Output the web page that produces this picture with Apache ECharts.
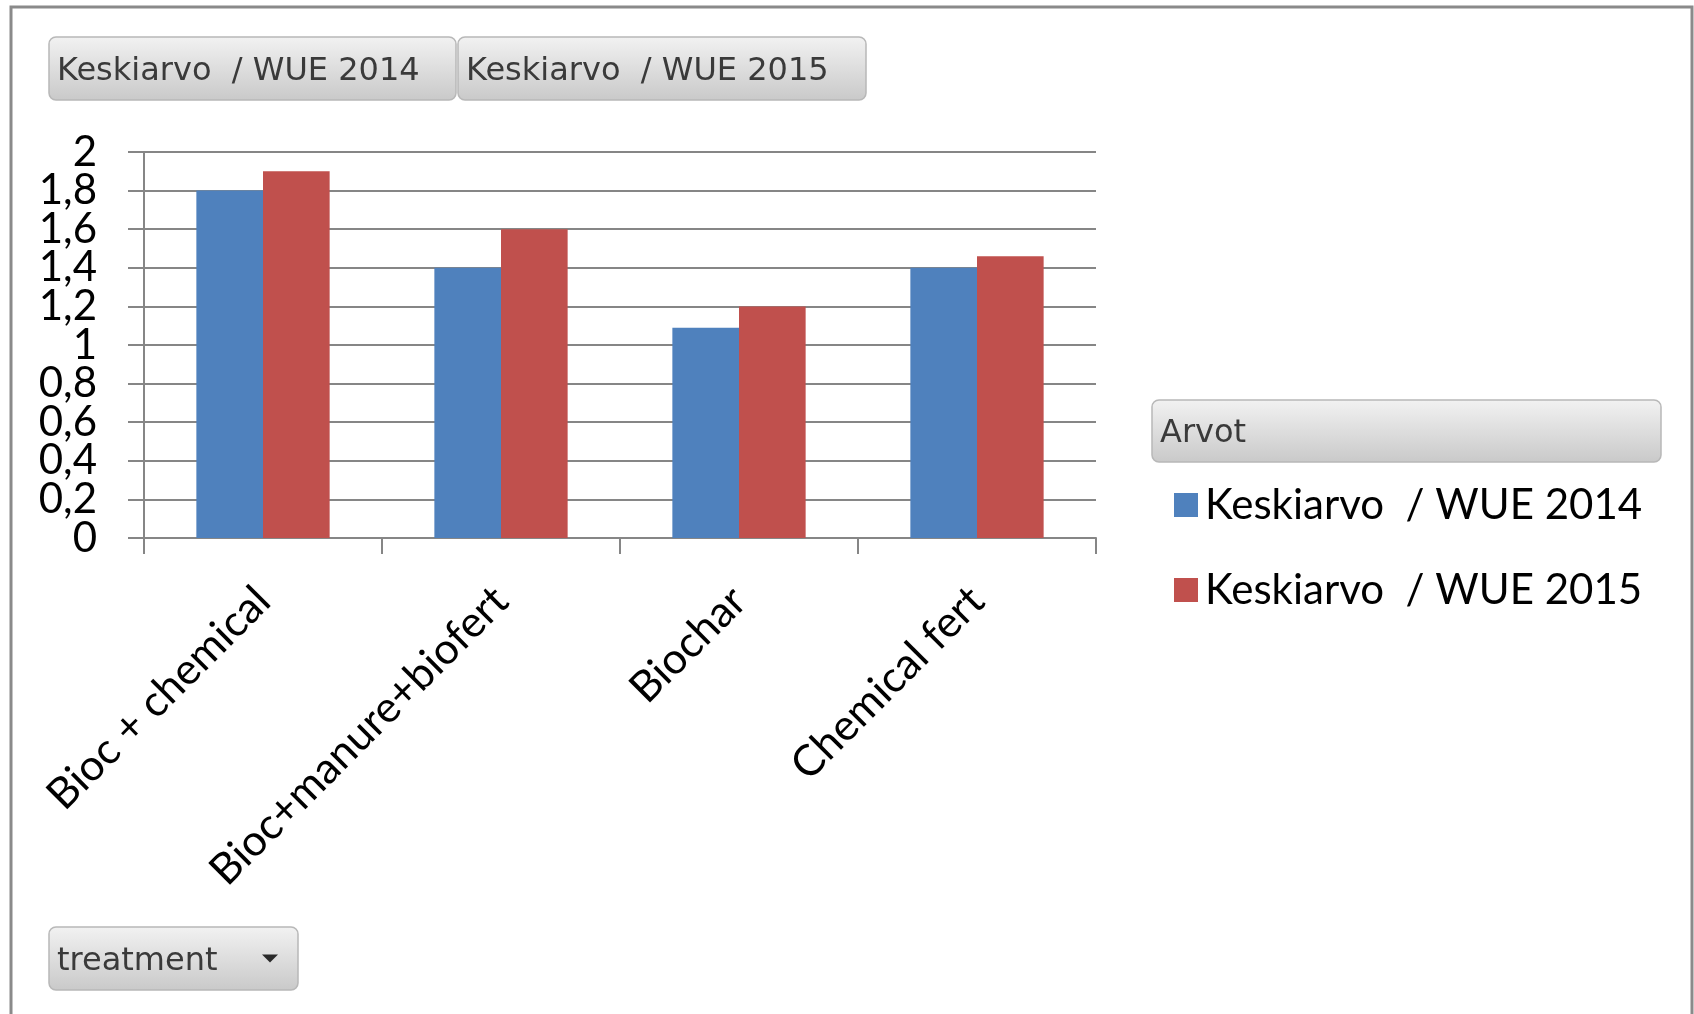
<!DOCTYPE html>
<html>
<head>
<meta charset="utf-8">
<title>WUE</title>
<script src="https://cdn.jsdelivr.net/npm/echarts@6/dist/echarts.min.js"></script>
<style>
  html, body { margin: 0; padding: 0; background: #ffffff; }
  #chart { width: 1694px; height: 1014px; }
</style>
</head>
<body>
<div id="chart"></div>
<script>
// Treatment categories on the x axis
const treatments = ['Bioc + chemical', 'Bioc+manure+biofert', 'Biochar', 'Chemical fert'];
// Mean water-use efficiency per treatment and year
const wue2014 = [1.8, 1.4, 1.09, 1.4];
const wue2015 = [1.9, 1.6, 1.2, 1.46];
// Series / field names
const name2014 = 'Keskiarvo  / WUE 2014';
const name2015 = 'Keskiarvo  / WUE 2015';
const valuesField = 'Arvot';
const rowField = 'treatment';

const labelFont = 'Lato';
const buttonFont = '"DejaVu Sans", sans-serif';

// Pivot-style field button: rounded grey gradient box with a caption
function fieldButton(x, y, w, h, caption, withArrow) {
  const children = [
    {
      type: 'rect',
      shape: { x: x, y: y, width: w, height: h, r: 7 },
      style: {
        fill: new echarts.graphic.LinearGradient(0, 0, 0, 1, [
          { offset: 0, color: '#f2f2f2' },
          { offset: 1, color: '#c9c9c9' }
        ]),
        stroke: '#b8b8b8',
        lineWidth: 1.5
      }
    },
    {
      type: 'text',
      x: x + 8,
      y: y + h / 2 + 3,
      style: {
        text: caption,
        font: '32px ' + buttonFont,
        fill: '#3a3a3a',
        textVerticalAlign: 'middle'
      }
    }
  ];
  if (withArrow) {
    children.push({
      type: 'polygon',
      shape: { points: [[x + w - 36, y + h / 2 - 4], [x + w - 20, y + h / 2 - 4], [x + w - 28, y + h / 2 + 4]] },
      style: { fill: '#2a2a2a' }
    });
  }
  return { type: 'group', children: children };
}

// Decimal-comma tick text; the two value axes share the scale and each
// prints every other tick so the tightly packed labels all stay visible.
function tickText(v) {
  return String(Math.round(v * 10) / 10).replace('.', ',');
}
function tickStep(v) {
  return Math.round(v * 5);
}

const yLabelBase = {
  margin: 47,
  showMinLabel: true,
  showMaxLabel: true,
  hideOverlap: false,
  fontFamily: labelFont,
  fontSize: 42,
  color: '#000000'
};

const chart = echarts.init(document.getElementById('chart'), null, { renderer: 'canvas' });

chart.setOption({
  animation: false,
  backgroundColor: '#ffffff',
  color: ['#4F81BD', '#C0504D'],
  grid: {
    left: 144,
    right: 598,
    top: 152,
    bottom: 476,
    containLabel: false
  },
  legend: {
    orient: 'vertical',
    left: 1169,
    top: 479,
    itemWidth: 24,
    itemHeight: 24,
    itemGap: 43,
    icon: 'rect',
    textStyle: { fontFamily: labelFont, fontSize: 42, color: '#000000', padding: [0, 0, 0, 2] },
    data: [name2014, name2015]
  },
  xAxis: {
    type: 'category',
    data: treatments,
    axisLine: { lineStyle: { color: '#868686', width: 2 } },
    axisTick: { show: true, length: 16, lineStyle: { color: '#868686', width: 2 } },
    axisLabel: {
      rotate: 45,
      interval: 0,
      margin: 56,
      fontFamily: labelFont,
      fontSize: 43,
      color: '#000000'
    }
  },
  yAxis: [
    {
      type: 'value',
      position: 'left',
      min: 0,
      max: 2,
      interval: 0.2,
      axisLine: { show: true, lineStyle: { color: '#868686', width: 2 } },
      axisTick: { show: true, length: 16, lineStyle: { color: '#868686', width: 2 } },
      splitLine: { lineStyle: { color: '#868686', width: 2 } },
      axisLabel: Object.assign({}, yLabelBase, {
        formatter: function (v) { return tickStep(v) % 2 === 0 ? tickText(v) : ''; }
      })
    },
    {
      type: 'value',
      position: 'left',
      offset: 0,
      min: 0,
      max: 2,
      interval: 0.2,
      axisLine: { show: false },
      axisTick: { show: false },
      splitLine: { show: false },
      axisLabel: Object.assign({}, yLabelBase, {
        formatter: function (v) { return tickStep(v) % 2 === 1 ? tickText(v) : ''; }
      })
    }
  ],
  series: [
    {
      name: name2014,
      type: 'bar',
      yAxisIndex: 0,
      data: wue2014,
      barGap: '0%',
      barCategoryGap: '44%'
    },
    {
      name: name2015,
      type: 'bar',
      yAxisIndex: 0,
      data: wue2015,
      barGap: '0%',
      barCategoryGap: '44%'
    }
  ],
  graphic: [
    {
      type: 'rect',
      silent: true,
      shape: { x: 11, y: 7, width: 1681, height: 1020 },
      style: { fill: null, stroke: '#8a8a8a', lineWidth: 3 }
    },
    fieldButton(49, 37, 407, 63, name2014, false),
    fieldButton(458, 37, 408, 63, name2015, false),
    fieldButton(1152, 400, 509, 62, valuesField, false),
    fieldButton(49, 927, 249, 63, rowField, true)
  ]
});
</script>
</body>
</html>
